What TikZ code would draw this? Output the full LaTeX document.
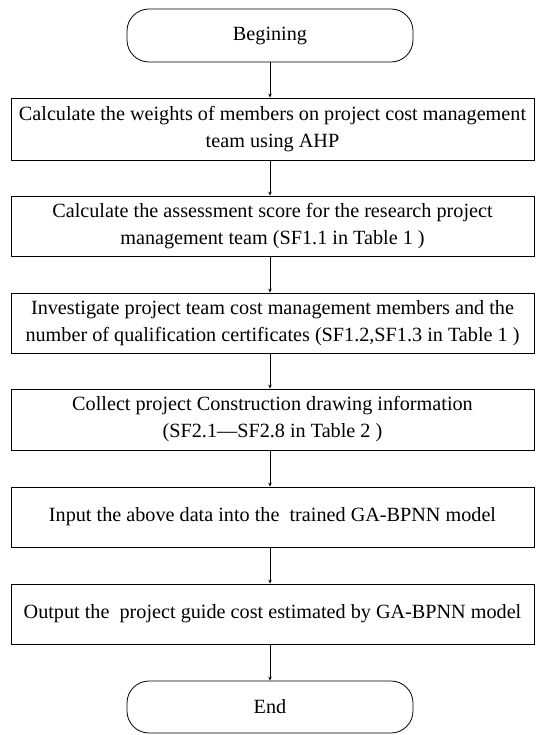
\documentclass[tikz,border=0pt]{standalone}
\usepackage{fontspec}
\setmainfont{Liberation Serif}
\usetikzlibrary{arrows.meta}
\begin{document}
\begin{tikzpicture}[x=1pt,y=1pt,
  box/.style={draw, line width=0.8pt, minimum width=523pt, align=center,
    font=\fontsize{20.2}{27}\selectfont, inner sep=0pt},
  term/.style={draw, line width=0.8pt, rounded corners=22pt, minimum width=286pt,
    font=\fontsize{20.2}{27}\selectfont, inner sep=0pt},
  arr/.style={-{Stealth[length=4pt,width=3.5pt]}, line width=0.8pt}]
\useasboundingbox (0,0) rectangle (535,-735);
\node[term, minimum height=53pt] (begin) at (270,-35.5) {Begining};
\node[box, minimum height=62pt] (b1) at (272.5,-129) {Calculate the weights of members on project cost management\\team using AHP};
\node[box, minimum height=60pt] (b2) at (272.5,-226) {Calculate the assessment score for the research project\\management team (SF1.1 in Table 1 )};
\node[box, minimum height=60pt] (b3) at (272.5,-323) {Investigate project team cost management members and the\\number of qualification certificates (SF1.2,SF1.3 in Table 1 )};
\node[box, minimum height=61pt] (b4) at (272.5,-419.5) {Collect project Construction drawing information\\(SF2.1—SF2.8 in Table 2 )};
\node[box, minimum height=60pt] (b5) at (272.5,-517) {Input the above data into the~ trained GA-BPNN model};
\node[box, minimum height=60pt] (b6) at (272.5,-614) {Output the~ project guide cost estimated by GA-BPNN model};
\node[term, minimum height=52pt] (end) at (270,-707) {End};
\draw[arr] (begin.south) -- (begin.south |- b1.north);
\draw[arr] (b1.south -| begin.south) -- (begin.south |- b2.north);
\draw[arr] (b2.south -| begin.south) -- (begin.south |- b3.north);
\draw[arr] (b3.south -| begin.south) -- (begin.south |- b4.north);
\draw[arr] (b4.south -| begin.south) -- (begin.south |- b5.north);
\draw[arr] (b5.south -| begin.south) -- (begin.south |- b6.north);
\draw[arr] (b6.south -| begin.south) -- (end.north);
\end{tikzpicture}
\end{document}
